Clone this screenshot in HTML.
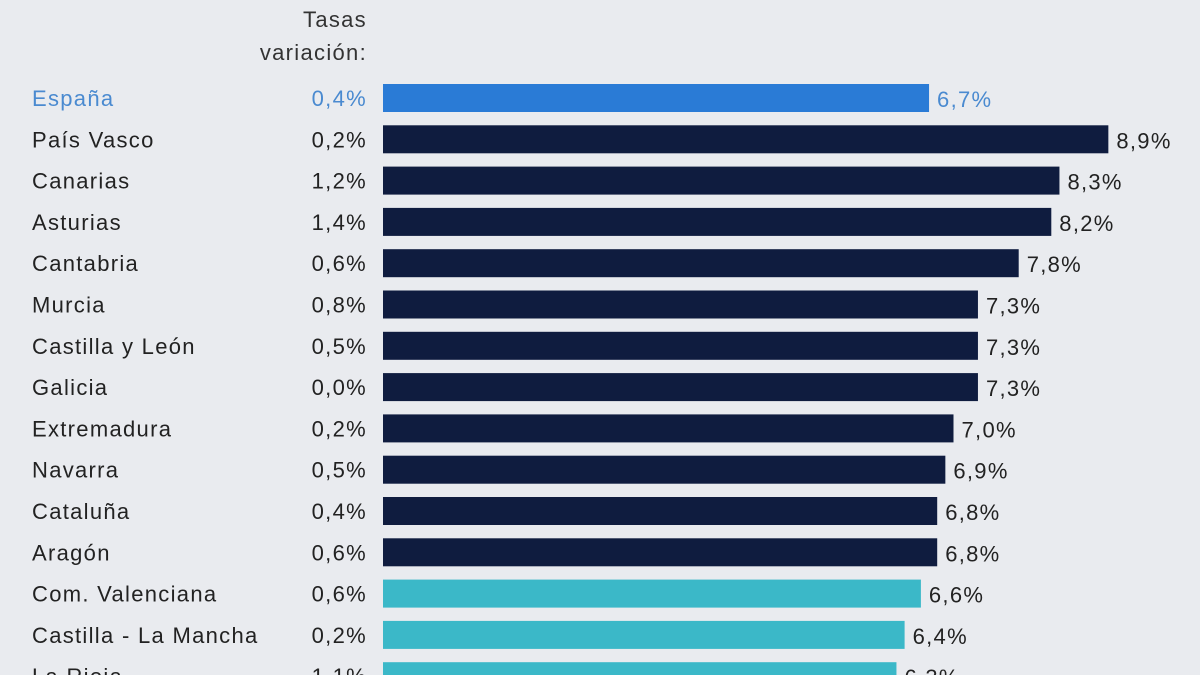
<!DOCTYPE html>
<html><head><meta charset="utf-8"><style>
html,body{margin:0;padding:0;background:#e9ebef;}
svg{display:block;font-family:"Liberation Sans",sans-serif;}
svg text{letter-spacing:1.3px;}
</style></head><body>
<svg id="c" width="1200" height="675">
<text x="367" y="27" text-anchor="end" font-size="22" fill="#333">Tasas</text>
<text x="367" y="60" text-anchor="end" font-size="22" fill="#333">variación:</text>
</svg>
<script>
const categories=["España","País Vasco","Canarias","Asturias","Cantabria","Murcia","Castilla y León","Galicia","Extremadura","Navarra","Cataluña","Aragón","Com. Valenciana","Castilla - La Mancha","La Rioja"];
const values=[6.7,8.9,8.3,8.2,7.8,7.3,7.3,7.3,7.0,6.9,6.8,6.8,6.6,6.4,6.3];
const variations=["0,4%","0,2%","1,2%","1,4%","0,6%","0,8%","0,5%","0,0%","0,2%","0,5%","0,4%","0,6%","0,6%","0,2%","1,1%"];
const groups=["spain","dark","dark","dark","dark","dark","dark","dark","dark","dark","dark","dark","teal","teal","teal"];
const svg=document.getElementById('c');
const NS='http://www.w3.org/2000/svg';
const x0=383, scale=81.5;
const xs=v=>x0+v*scale;
const yc=i=>98+i*41.3;
const barCol={spain:"#2a7bd6",dark:"#0f1c3f",teal:"#3bb8c8"};
function mk(t,a){const e=document.createElementNS(NS,t);for(const k in a)e.setAttribute(k,a[k]);svg.appendChild(e);return e;}
categories.forEach((c,i)=>{
  const y=yc(i);
  const tc=groups[i]==="spain"?"#4a8ad0":"#222";
  const lab=mk('text',{x:32,y:y+8,'font-size':22,fill:tc});
  lab.textContent=c;
  
  
  const vr=mk('text',{x:367,y:y+8,'font-size':22,fill:tc,'text-anchor':'end'});
  vr.textContent=variations[i];
  
  
  const b=mk('rect',{x:x0,y:y-14,width:xs(values[i])-x0,height:28,fill:barCol[groups[i]]});
  
  
  const vl=mk('text',{x:xs(values[i])+8,y:y+9,'font-size':22,fill:tc});
  vl.textContent=values[i].toFixed(1).replace('.',',')+'%';
  
  
});
</script>
</body></html>
